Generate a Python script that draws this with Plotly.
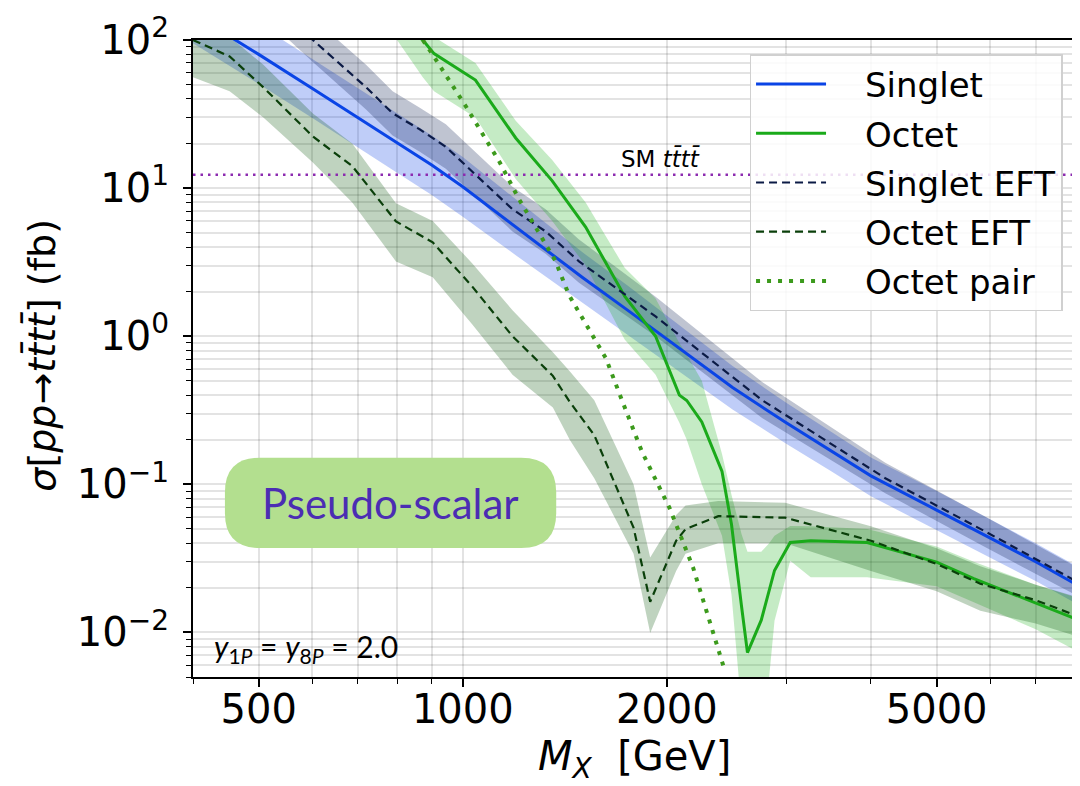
import numpy as np
import plotly.graph_objects as go

# ---------------- data ----------------
x_singlet = [400, 500, 600, 700, 800, 900, 1000, 1200, 1300, 1500, 1750, 2000, 2500, 3000, 3500, 4000, 5000, 6000, 7000, 8000]
y_singlet = [150, 80, 47, 30, 20.2, 14.3, 10.2, 5.4, 4.1, 2.5, 1.5, 0.96, 0.45, 0.26, 0.166, 0.114, 0.067, 0.0435, 0.030, 0.0213]
hi_singlet = [238, 127, 74.5, 47.5, 32, 22.7, 16.2, 8.3, 6.2, 3.7, 2.2, 1.38, 0.63, 0.355, 0.225, 0.152, 0.09, 0.058, 0.040, 0.0285]
lo_singlet = [95, 50.5, 29.7, 18.9, 12.7, 9.0, 6.4, 3.5, 2.7, 1.68, 1.02, 0.66, 0.32, 0.188, 0.122, 0.083, 0.049, 0.032, 0.0222, 0.0158]

x_singlet_eft = [520, 601, 720, 788, 863, 944, 1184, 1325, 1484, 1925, 2764, 4200, 5874, 8000]
y_singlet_eft = [185, 100, 48, 32, 25, 19, 7.2, 5.1, 3.2, 1.36, 0.37, 0.11, 0.0485, 0.0224]
hi_singlet_eft = [260, 141, 68, 45, 35, 27, 10.2, 7.2, 4.5, 1.85, 0.49, 0.14, 0.061, 0.028]
lo_singlet_eft = [131, 71, 34, 22.7, 17.7, 13.5, 5.1, 3.6, 2.3, 1.0, 0.28, 0.087, 0.038, 0.018]

x_octet = [800, 873, 907, 1044, 1197, 1355, 1518, 1733, 1925, 2087, 2140, 2252, 2412, 2491, 2578, 2630, 2756, 2831, 2883, 3041, 3260, 3950, 5000, 5673, 7000, 8000]
y_octet = [135, 100, 80.9, 53.6, 21.8, 11.2, 5.46, 1.86, 1.0, 0.40, 0.368, 0.264, 0.122, 0.0537, 0.0149, 0.0073, 0.0121, 0.0196, 0.0262, 0.0405, 0.0416, 0.0405, 0.0298, 0.0231, 0.0157, 0.0124]
hi_octet = [175, 132, 105, 70, 28.5, 15.5, 8.0, 2.9, 1.8, 0.9, 0.75, 0.5, 0.16, 0.085, 0.046, 0.035, 0.035, 0.04, 0.045, 0.0524, 0.052, 0.050, 0.038, 0.030, 0.021, 0.0173]
lo_octet = [100, 56, 45, 30, 11.5, 6.0, 3.0, 0.95, 0.55, 0.26, 0.2, 0.1, 0.045, 0.018, 0.003, 0.002, 0.003, 0.005, 0.012, 0.0305, 0.0236, 0.0236, 0.0205, 0.016, 0.0105, 0.0076]

x_octet_eft = [400, 453, 508, 601, 687, 797, 903, 1033, 1184, 1358, 1438, 1563, 1786, 1890, 2064, 2131, 2382, 2990, 4000, 5000, 5800, 7000, 8000]
y_octet_eft = [100, 77.5, 47.9, 22.3, 14.1, 5.96, 4.3, 2.16, 1.0, 0.54, 0.36, 0.215, 0.051, 0.0161, 0.0416, 0.0498, 0.061, 0.0595, 0.0416, 0.029, 0.0213, 0.0165, 0.0131]
hi_octet_eft = [140, 105, 68, 31.9, 20, 7.9, 6.0, 3.1, 1.5, 0.78, 0.58, 0.37, 0.10, 0.032, 0.062, 0.072, 0.077, 0.075, 0.052, 0.037, 0.028, 0.021, 0.0175]
lo_octet_eft = [56, 45, 30, 14.9, 8.0, 3.2, 2.5, 1.2, 0.55, 0.33, 0.2, 0.11, 0.034, 0.0099, 0.026, 0.034, 0.040, 0.040, 0.026, 0.019, 0.014, 0.0115, 0.0095]

x_octet_pair = [873, 903, 1012, 1134, 1209, 1370, 1434, 1626, 1714, 1790, 1838, 2018, 2186, 2433]
y_octet_pair = [100, 79.5, 35.3, 14.9, 8.5, 3.22, 1.9, 0.71, 0.378, 0.226, 0.166, 0.0693, 0.0275, 0.0056]

sm_tttt = 12.3
x_range = [400, 8000]
y_range = [5e-3, 100]

x_tickvals = [500, 1000, 2000, 5000]
x_ticktext = ["500", "1000", "2000", "5000"]
x_minor = [400, 600, 700, 800, 900, 3000, 4000, 6000, 7000, 8000]
y_tickvals = [1e-2, 1e-1, 1, 10, 100]
y_ticktext = ["10<sup>\u22122</sup>", "10<sup>\u22121</sup>", "10<sup>0</sup>", "10<sup>1</sup>", "10<sup>2</sup>"]
y_minor = [k * 10.0 ** d for d in range(-3, 2) for k in range(2, 10) if 5e-3 <= k * 10.0 ** d <= 100]

legend_names = ["Singlet", "Octet", "Singlet EFT", "Octet EFT", "Octet pair"]

# ---------------- figure ----------------
fig = go.Figure()


def band(x, lo, hi, color):
    return go.Scatter(x=list(x) + list(x)[::-1], y=list(hi) + list(lo)[::-1],
                      fill="toself", fillcolor=color, mode="lines",
                      line=dict(width=0), showlegend=False, hoverinfo="skip")


fig.add_trace(band(x_singlet, lo_singlet, hi_singlet, "rgba(20,70,230,0.27)"))
fig.add_trace(band(x_singlet_eft, lo_singlet_eft, hi_singlet_eft, "rgba(0,20,70,0.25)"))
fig.add_trace(band(x_octet, lo_octet, hi_octet, "rgba(25,175,25,0.25)"))
fig.add_trace(band(x_octet_eft, lo_octet_eft, hi_octet_eft, "rgba(0,80,0,0.25)"))

# SM line
fig.add_trace(go.Scatter(x=x_range, y=[sm_tttt, sm_tttt], mode="lines",
                         line=dict(color="#8c2bb0", width=2.6, dash="2.5px,5px"),
                         showlegend=False, hoverinfo="skip"))

pad = "\u2003"
fig.add_trace(go.Scatter(x=x_singlet, y=y_singlet, mode="lines", name=pad + legend_names[0],
                         legendgroup="a", line=dict(color="#0a44e6", width=3)))
fig.add_trace(go.Scatter(x=x_octet, y=y_octet, mode="lines", name=pad + legend_names[1],
                         legendgroup="b", line=dict(color="#1aaa1a", width=3)))
fig.add_trace(go.Scatter(x=x_singlet_eft, y=y_singlet_eft, mode="lines", name=pad + legend_names[2],
                         legendgroup="c", line=dict(color="#0b1a45", width=2.2, dash="8px,5px")))
fig.add_trace(go.Scatter(x=x_octet_eft, y=y_octet_eft, mode="lines", name=pad + legend_names[3],
                         legendgroup="d", line=dict(color="#0a3f0a", width=2.2, dash="8px,5px")))
fig.add_trace(go.Scatter(x=x_octet_pair, y=y_octet_pair, mode="lines", name=pad + legend_names[4],
                         legendgroup="e", line=dict(color="#3c9a1c", width=4, dash="4px,7px")))

grid_c = "rgba(0,0,0,0.11)"
fig.update_xaxes(type="log", range=[np.log10(x_range[0]), np.log10(x_range[1])],
                 tickmode="array", tickvals=x_tickvals, ticktext=x_ticktext,
                 ticks="outside", ticklen=8, tickwidth=1.5, tickcolor="black",
                 ticklabelstandoff=-12, ticklabeloverflow="allow",
                 tickfont=dict(family="DejaVu Sans", size=40, color="black"),
                 showline=True, linecolor="black", linewidth=2, mirror=True,
                 showgrid=True, gridcolor=grid_c, gridwidth=1.5, zeroline=False,
                 minor=dict(tickmode="array", tickvals=x_minor, ticks="outside", ticklen=5,
                            tickwidth=1, tickcolor="black", showgrid=True,
                            gridcolor=grid_c, gridwidth=1.5))
fig.update_yaxes(type="log", range=[np.log10(y_range[0]), np.log10(y_range[1]) + 1e-6],
                 tickmode="array", tickvals=y_tickvals, ticktext=y_ticktext,
                 ticks="outside", ticklen=8, tickwidth=1.5, tickcolor="black",
                 ticklabelstandoff=6, ticklabeloverflow="allow",
                 tickfont=dict(family="DejaVu Sans", size=40, color="black"),
                 showline=True, linecolor="black", linewidth=2, mirror=True,
                 showgrid=True, gridcolor=grid_c, gridwidth=1.5, zeroline=False,
                 minor=dict(tickmode="array", tickvals=y_minor, ticks="outside", ticklen=5,
                            tickwidth=1, tickcolor="black", showgrid=True,
                            gridcolor=grid_c, gridwidth=1.5))

# pill-shaped label box (paper coords)
bx0, bx1, by0, by1, rx, ry = 0.0362, 0.4118, 0.2025, 0.3442, 0.0396, 0.0545
pill = (f"M {bx0+rx},{by0} L {bx1-rx},{by0} Q {bx1},{by0} {bx1},{by0+ry} "
        f"L {bx1},{by1-ry} Q {bx1},{by1} {bx1-rx},{by1} L {bx0+rx},{by1} "
        f"Q {bx0},{by1} {bx0},{by1-ry} L {bx0},{by0+ry} Q {bx0},{by0} {bx0+rx},{by0} Z")
fig.add_shape(type="path", path=pill, xref="paper", yref="paper",
              fillcolor="#b3df8f", line=dict(width=0), layer="above")

tbar = "t\u0304"
annotations = [
    dict(text="<i>\u03c3</i>[<i>pp</i>\u2192<i>t" + tbar + "t" + tbar + "</i>] (fb)",
         xref="paper", yref="paper", x=-0.1708, y=0.505, textangle=-90,
         xanchor="center", yanchor="middle",
         showarrow=False, font=dict(family="DejaVu Sans", size=38, color="black")),
    dict(text="<i>M</i><sub><i>X</i></sub>\u00a0\u00a0[GeV]",
         xref="paper", yref="paper", x=0.5, y=-0.128, xanchor="center", yanchor="middle",
         showarrow=False, font=dict(family="DejaVu Sans", size=40, color="black")),
    dict(text="SM <i>t" + tbar + "t" + tbar + "</i>", x=np.log10(1958), y=np.log10(sm_tttt),
         xref="x", yref="y", xanchor="center", yanchor="bottom", yshift=1, showarrow=False,
         font=dict(family="DejaVu Sans", size=23, color="black")),
    dict(text="Pseudo-scalar", xref="paper", yref="paper", x=0.2240, y=0.273,
         xanchor="center", yanchor="middle",
         showarrow=False, font=dict(family="Lato", size=42, color="#4b2db3")),
    dict(text="<i>y</i><sub>1<i>P</i></sub> = <i>y</i><sub>8<i>P</i></sub> = 2.0",
         xref="paper", yref="paper", x=0.0215, y=0.045, xanchor="left", yanchor="middle",
         showarrow=False, font=dict(family="Lato", size=30, color="black")),
]

fig.update_layout(
    width=1072, height=778,
    margin=dict(l=185, r=3, t=27, b=109),
    paper_bgcolor="white", plot_bgcolor="white",
    font=dict(family="DejaVu Sans", color="black"),
    annotations=annotations,
    legend=dict(x=0.631, y=0.978, xanchor="left", yanchor="top",
                bgcolor="rgba(255,255,255,0.85)", bordercolor="#d0d0d0", borderwidth=1.5,
                font=dict(family="DejaVu Sans", size=34, color="black"),
                traceorder="grouped", tracegroupgap=2, itemwidth=70),
)

fig.write_html("out.html")
